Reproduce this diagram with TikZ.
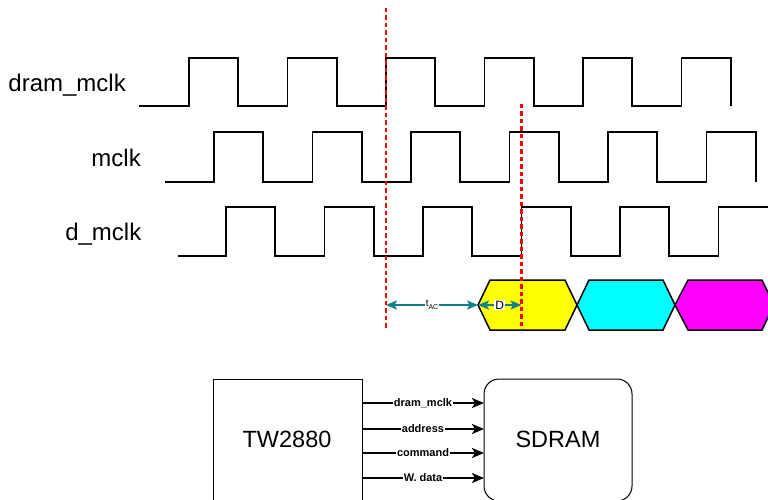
\documentclass[tikz,border=0pt]{standalone}
\usepackage{fontspec}
\setmainfont{Liberation Sans}
\usetikzlibrary{arrows.meta}
\definecolor{tealc}{RGB}{14,128,136}
\definecolor{redd}{RGB}{255,0,0}
\definecolor{yel}{RGB}{255,255,0}
\definecolor{cya}{RGB}{0,255,255}
\definecolor{mag}{RGB}{255,0,255}
\begin{document}
\begin{tikzpicture}[x=1pt,y=-1pt,
  wave/.style={line width=1.6pt,line join=miter,line cap=butt},
  sig/.style={line width=2.6pt,-{Stealth[length=12pt,width=10pt,inset=3pt]}},
  lab/.style={fill=white,inner sep=1pt,font=\bfseries\fontsize{11}{12}\selectfont},
  big/.style={font=\fontsize{24}{28}\selectfont,inner sep=0pt},
  boxt/.style={font=\fontsize{23.5}{27}\selectfont,inner sep=0pt},
  hexa/.style={draw=black,line width=1.5pt,line join=miter},
  meas/.style={draw=tealc,line width=2pt,{Stealth[length=11pt,width=9pt,inset=2.5pt]}-{Stealth[length=11pt,width=9pt,inset=2.5pt]}},
  mlab/.style={fill=white,inner sep=1.2pt},
  reddash/.style={draw=redd,line width=2.4pt,dash pattern=on 4.5pt off 3pt}]
\useasboundingbox (0,0) rectangle (768,500);
\fill[white] (0,0) rectangle (768,500);
% labels
\node[big,anchor=base east] (ldram) at (126,92) {dram\_mclk};
\node[big,anchor=base east] (lmclk) at (141,166) {mclk};
\node[big,anchor=base east] (ldmclk) at (141.5,240) {d\_mclk};
% waveforms
\def\per{98.5}
\draw[wave] (139,106) foreach \k in {0,...,5} {
  -- ({189+\k*\per},106) -- ({189+\k*\per},58) -- ({189+\k*\per+\per/2},58) -- ({189+\k*\per+\per/2},106)};
\draw[wave] (165,182) foreach \k in {0,...,5} {
  -- ({214+\k*\per},182) -- ({214+\k*\per},132) -- ({214+\k*\per+\per/2},132) -- ({214+\k*\per+\per/2},182)};
\draw[wave] (178,256) foreach \k in {0,...,4} {
  -- ({226+\k*\per},256) -- ({226+\k*\per},207) -- ({226+\k*\per+\per/2},207) -- ({226+\k*\per+\per/2},256)}
  -- ({226+5*\per},256) -- ({226+5*\per},207) -- (770,207);
% data eyes
\draw[hexa,fill=yel] (478,305) -- (490,280) -- (565,280) -- (577,305) -- (565,330) -- (490,330) -- cycle;
\draw[hexa,fill=cya] (577,305) -- (589,280) -- (663,280) -- (675,305) -- (663,330) -- (589,330) -- cycle;
\draw[hexa,fill=mag] (675,305) -- (688,280) -- (762,280) -- (774,305) -- (762,330) -- (688,330) -- cycle;
% timing coordinates
\coordinate (r1top) at (386,8);
\coordinate (r1bot) at (386,330);
\coordinate (r2top) at (521.5,104);
\coordinate (r2bot) at (521.5,330);
\coordinate (tacs) at (386,305);
\coordinate (eye) at (478,305);
\coordinate (dend) at (521.5,305);
\draw[meas] (tacs) -- node[mlab]{\fontsize{10}{11}\selectfont t\raisebox{-2.5pt}{\fontsize{7}{8}\selectfont AC}} (eye);
\draw[meas] (eye) -- node[mlab]{\fontsize{12}{13}\selectfont D} (dend);
\draw[reddash] (r1top) -- (r1bot);
\draw[reddash] (r2top) -- (r2bot);
% blocks
\draw[line width=1pt] (213,379) rectangle (362,501);
\node[boxt,anchor=base] (tw) at (287,447.5) {TW2880};
\draw[line width=1pt,rounded corners=15pt] (484,379) rectangle (632,501);
\node[boxt,anchor=base] (sd) at (558,447.5) {SDRAM};
\coordinate (s1) at (362,403); \coordinate (e1) at (484,403);
\coordinate (s2) at (362,429); \coordinate (e2) at (484,429);
\coordinate (s3) at (362,453); \coordinate (e3) at (484,453);
\coordinate (s4) at (362,478); \coordinate (e4) at (484,478);
\draw[sig] (s1) -- node[lab]{dram\_mclk} (e1);
\draw[sig] (s2) -- node[lab]{address} (e2);
\draw[sig] (s3) -- node[lab]{command} (e3);
\draw[sig] (s4) -- node[lab]{W. data} (e4);
\end{tikzpicture}
\end{document}
